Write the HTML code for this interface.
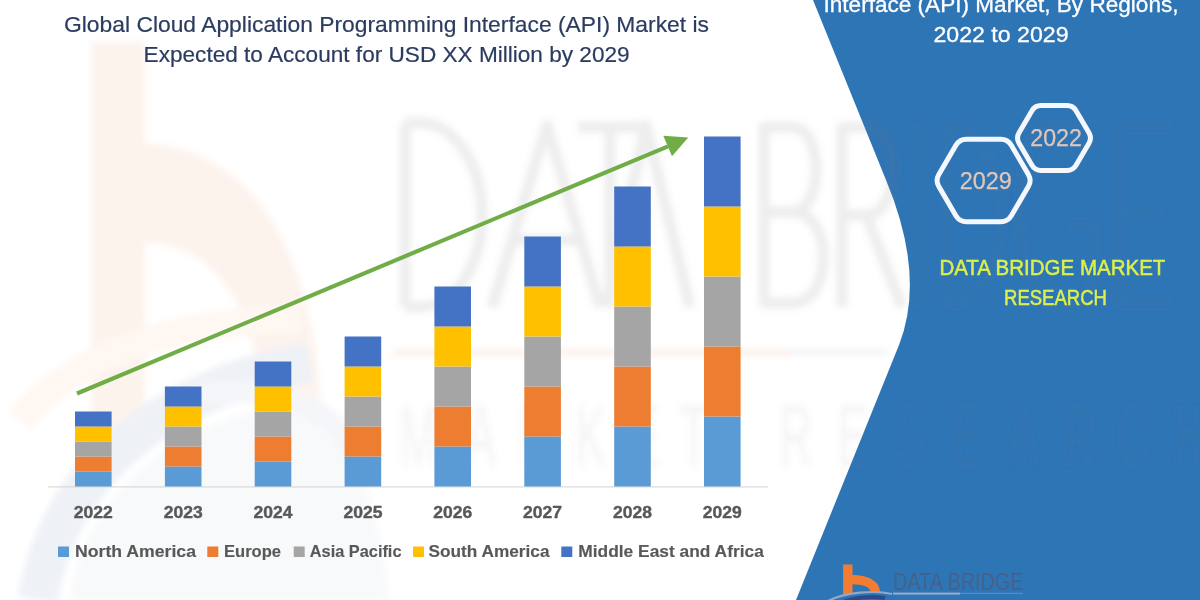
<!DOCTYPE html>
<html><head><meta charset="utf-8">
<style>
html,body{margin:0;padding:0;background:#fff;}
body{width:1200px;height:600px;overflow:hidden;position:relative;}
svg{position:absolute;left:0;top:0;display:block;}
text{font-family:"Liberation Sans",sans-serif;}
</style></head><body>
<svg width="1200" height="600" viewBox="0 0 1200 600">
<defs>
<filter id="bl" x="-20%" y="-20%" width="140%" height="140%"><feGaussianBlur stdDeviation="3"/></filter>
<filter id="bl2" x="-20%" y="-20%" width="140%" height="140%"><feGaussianBlur stdDeviation="6"/></filter>
<filter id="soft" x="-5%" y="-5%" width="110%" height="110%"><feGaussianBlur stdDeviation="0.35"/></filter>
</defs>
<rect x="0" y="0" width="1200" height="600" fill="#ffffff"/>
<!-- watermark -->
<g filter="url(#bl)">
<g fill="#fdf3ed">
<rect x="91" y="42" width="54" height="408"/>
<path d="M143,143 C235,146 322,225 322,450 L264,450 C264,305 215,243 143,243 Z"/>
</g>
<path d="M70,600 C80,500 170,420 300,400 C360,430 380,520 390,600 Z" fill="#f8f9fb"/>
<path d="M38,600 C55,485 150,390 310,362" fill="none" stroke="#eef1f6" stroke-width="40"/>
<path d="M200,395 C290,380 350,420 360,470" fill="none" stroke="#f5f6f9" stroke-width="22"/>
<path d="M20,420 C80,350 180,320 300,320" fill="none" stroke="#fef7f2" stroke-width="28"/>
<rect x="393" y="349.5" width="400" height="6" fill="#fcefe7"/>
<rect x="793" y="349.5" width="95" height="5" fill="#eef2f7"/>
</g>
<!-- panel -->
<path d="M813,0 L1200,0 L1200,600 L796,600 L899,345 Q926,276 886,180 Z" fill="#2e75b6"/>
<g filter="url(#bl)" fill="none" stroke="rgb(110,110,110)" stroke-opacity="0.12" stroke-width="11" stroke-linejoin="round">
<path d="M405,123 V307 M405,123 H420 A62,92 0 0 1 420,307 H405 M492,307 L547,125 L600,307 M515,240 H578 M578,127 H642 M610,127 V307 M606,307 L646,125 L690,307 M764,123 V307 M764,127 H792 C824,127 824,212 792,212 H764 M792,212 C834,212 834,303 792,303 H764 M842,123 V307 M842,127 H866 C902,127 902,215 866,215 H842 M866,215 L902,307"/>
</g>
<g filter="url(#bl)" fill="none" stroke="rgb(110,110,110)" stroke-opacity="0.05" stroke-width="11" stroke-linejoin="round">
<path d="M918,123 V307 M946,123 V307 M946,127 H960 A52,90 0 0 1 960,303 H946 M1095,150 C1080,128 1065,123 1055,123 C1030,123 1020,170 1020,215 C1020,265 1035,307 1058,307 C1080,307 1095,290 1095,260 V225 H1068 M1118,123 V307 M1118,127 H1172 M1118,212 H1165 M1118,303 H1172"/>
</g>
<g filter="url(#bl)" fill="rgb(110,110,110)" fill-opacity="0.08" font-size="88">
<text transform="translate(400,466) scale(0.5,1)">M</text><text transform="translate(466,466) scale(0.5,1)">A</text><text transform="translate(520,466) scale(0.5,1)">R</text><text transform="translate(576,466) scale(0.5,1)">K</text><text transform="translate(630,466) scale(0.5,1)">E</text><text transform="translate(680,466) scale(0.5,1)">T</text><text transform="translate(780,466) scale(0.5,1)">R</text><text transform="translate(838,466) scale(0.5,1)">E</text><text transform="translate(895,466) scale(0.5,1)">S</text><text transform="translate(952,466) scale(0.5,1)">E</text><text transform="translate(1008,466) scale(0.5,1)">A</text><text transform="translate(1063,466) scale(0.5,1)">R</text><text transform="translate(1118,466) scale(0.5,1)">C</text><text transform="translate(1172,466) scale(0.5,1)">H</text>
</g>
<!-- title -->
<g fill="#2b3c60" stroke="#2b3c60" stroke-width="0.2" font-size="22" filter="url(#soft)">
<text x="386.5" y="32.4" text-anchor="middle" textLength="645" lengthAdjust="spacingAndGlyphs">Global Cloud Application Programming Interface (API) Market is</text>
<text x="386.6" y="62" text-anchor="middle" textLength="486" lengthAdjust="spacingAndGlyphs">Expected to Account for USD XX Million by 2029</text>
</g>
<!-- axis -->
<rect x="48" y="486.3" width="720" height="1.2" fill="#d9d9d9"/>
<rect x="75.0" y="471.5" width="36.6" height="15" fill="#5b9bd5"/><rect x="75.0" y="456.5" width="36.6" height="15" fill="#ed7d31"/><rect x="75.0" y="441.5" width="36.6" height="15" fill="#a5a5a5"/><rect x="75.0" y="426.5" width="36.6" height="15" fill="#ffc000"/><rect x="75.0" y="411.5" width="36.6" height="15" fill="#4472c4"/><rect x="164.9" y="466.5" width="36.6" height="20" fill="#5b9bd5"/><rect x="164.9" y="446.5" width="36.6" height="20" fill="#ed7d31"/><rect x="164.9" y="426.5" width="36.6" height="20" fill="#a5a5a5"/><rect x="164.9" y="406.5" width="36.6" height="20" fill="#ffc000"/><rect x="164.9" y="386.5" width="36.6" height="20" fill="#4472c4"/><rect x="254.7" y="461.5" width="36.6" height="25" fill="#5b9bd5"/><rect x="254.7" y="436.5" width="36.6" height="25" fill="#ed7d31"/><rect x="254.7" y="411.5" width="36.6" height="25" fill="#a5a5a5"/><rect x="254.7" y="386.5" width="36.6" height="25" fill="#ffc000"/><rect x="254.7" y="361.5" width="36.6" height="25" fill="#4472c4"/><rect x="344.6" y="456.5" width="36.6" height="30" fill="#5b9bd5"/><rect x="344.6" y="426.5" width="36.6" height="30" fill="#ed7d31"/><rect x="344.6" y="396.5" width="36.6" height="30" fill="#a5a5a5"/><rect x="344.6" y="366.5" width="36.6" height="30" fill="#ffc000"/><rect x="344.6" y="336.5" width="36.6" height="30" fill="#4472c4"/><rect x="434.4" y="446.5" width="36.6" height="40" fill="#5b9bd5"/><rect x="434.4" y="406.5" width="36.6" height="40" fill="#ed7d31"/><rect x="434.4" y="366.5" width="36.6" height="40" fill="#a5a5a5"/><rect x="434.4" y="326.5" width="36.6" height="40" fill="#ffc000"/><rect x="434.4" y="286.5" width="36.6" height="40" fill="#4472c4"/><rect x="524.3" y="436.5" width="36.6" height="50" fill="#5b9bd5"/><rect x="524.3" y="386.5" width="36.6" height="50" fill="#ed7d31"/><rect x="524.3" y="336.5" width="36.6" height="50" fill="#a5a5a5"/><rect x="524.3" y="286.5" width="36.6" height="50" fill="#ffc000"/><rect x="524.3" y="236.5" width="36.6" height="50" fill="#4472c4"/><rect x="614.2" y="426.5" width="36.6" height="60" fill="#5b9bd5"/><rect x="614.2" y="366.5" width="36.6" height="60" fill="#ed7d31"/><rect x="614.2" y="306.5" width="36.6" height="60" fill="#a5a5a5"/><rect x="614.2" y="246.5" width="36.6" height="60" fill="#ffc000"/><rect x="614.2" y="186.5" width="36.6" height="60" fill="#4472c4"/><rect x="704.0" y="416.5" width="36.6" height="70" fill="#5b9bd5"/><rect x="704.0" y="346.5" width="36.6" height="70" fill="#ed7d31"/><rect x="704.0" y="276.5" width="36.6" height="70" fill="#a5a5a5"/><rect x="704.0" y="206.5" width="36.6" height="70" fill="#ffc000"/><rect x="704.0" y="136.5" width="36.6" height="70" fill="#4472c4"/>
<!-- arrow -->
<line x1="77" y1="393.5" x2="668" y2="146.3" stroke="#70ad47" stroke-width="4.1"/>
<path d="M688.3,137.5 L663.3,135.8 L672,156.3 Z" fill="#70ad47"/>
<g fill="#595959" stroke="#595959" stroke-width="0.4" font-size="17.2" font-weight="bold" filter="url(#soft)">
<text x="93.3" y="518" text-anchor="middle" textLength="39" lengthAdjust="spacingAndGlyphs">2022</text><text x="183.2" y="518" text-anchor="middle" textLength="39" lengthAdjust="spacingAndGlyphs">2023</text><text x="273.0" y="518" text-anchor="middle" textLength="39" lengthAdjust="spacingAndGlyphs">2024</text><text x="362.9" y="518" text-anchor="middle" textLength="39" lengthAdjust="spacingAndGlyphs">2025</text><text x="452.7" y="518" text-anchor="middle" textLength="39" lengthAdjust="spacingAndGlyphs">2026</text><text x="542.6" y="518" text-anchor="middle" textLength="39" lengthAdjust="spacingAndGlyphs">2027</text><text x="632.5" y="518" text-anchor="middle" textLength="39" lengthAdjust="spacingAndGlyphs">2028</text><text x="722.3" y="518" text-anchor="middle" textLength="39" lengthAdjust="spacingAndGlyphs">2029</text>
</g>
<!-- legend -->
<g font-size="17" font-weight="bold" fill="#595959">
<rect x="58" y="546.5" width="11" height="10.5" fill="#5b9bd5"/>
<rect x="207.3" y="546.5" width="11" height="10.5" fill="#ed7d31"/>
<rect x="293.7" y="546.5" width="11" height="10.5" fill="#a5a5a5"/>
<rect x="413" y="546.5" width="11" height="10.5" fill="#ffc000"/>
<rect x="561.3" y="546.5" width="11" height="10.5" fill="#4472c4"/>
<g filter="url(#soft)" stroke="#595959" stroke-width="0.15">
<text x="75" y="557" textLength="121" lengthAdjust="spacingAndGlyphs">North America</text>
<text x="224" y="557" textLength="57" lengthAdjust="spacingAndGlyphs">Europe</text>
<text x="309.8" y="557" textLength="91.7" lengthAdjust="spacingAndGlyphs">Asia Pacific</text>
<text x="428.5" y="557" textLength="121" lengthAdjust="spacingAndGlyphs">South America</text>
<text x="578.3" y="557" textLength="185.5" lengthAdjust="spacingAndGlyphs">Middle East and Africa</text>
</g>
</g>
<!-- panel text -->
<g fill="#ffffff" stroke="#ffffff" stroke-width="0.3" font-size="22.3" filter="url(#soft)">
<text x="1001" y="11.7" text-anchor="middle" textLength="355" lengthAdjust="spacingAndGlyphs">Interface (API) Market, By Regions,</text>
<text x="1001" y="41.7" text-anchor="middle" textLength="135" lengthAdjust="spacingAndGlyphs">2022 to 2029</text>
</g>
<!-- hexagons -->
<g fill="none" stroke="#f4f8fc" stroke-width="5" filter="url(#soft)">
<path d="M1019.03,143.18 Q1016.00,138.00 1019.03,132.82 L1031.97,110.68 Q1035.00,105.50 1041.00,105.50 L1067.00,105.50 Q1073.00,105.50 1076.03,110.68 L1088.97,132.82 Q1092.00,138.00 1088.97,143.18 L1076.03,165.32 Q1073.00,170.50 1067.00,170.50 L1041.00,170.50 Q1035.00,170.50 1031.97,165.32 Z"/>
<path d="M938.84,186.54 Q935.30,180.50 938.84,174.46 L955.91,145.29 Q959.45,139.25 966.45,139.25 L1000.75,139.25 Q1007.75,139.25 1011.29,145.29 L1028.36,174.46 Q1031.90,180.50 1028.36,186.54 L1011.29,215.71 Q1007.75,221.75 1000.75,221.75 L966.45,221.75 Q959.45,221.75 955.91,215.71 Z"/>
</g>
<g fill="#e3c6b8" stroke="#e3c6b8" stroke-width="0.25" font-size="23.5" filter="url(#soft)">
<text x="1056.1" y="146.3" text-anchor="middle" textLength="51.5" lengthAdjust="spacingAndGlyphs">2022</text>
<text x="985.7" y="188.7" text-anchor="middle" textLength="52" lengthAdjust="spacingAndGlyphs">2029</text>
</g>
<g fill="#dcf04a" stroke="#dcf04a" stroke-width="0.5" font-size="21.6" filter="url(#soft)">
<text x="1052.4" y="275" text-anchor="middle" textLength="226" lengthAdjust="spacingAndGlyphs">DATA BRIDGE MARKET</text>
<text x="1055.5" y="305.2" text-anchor="middle" textLength="103" lengthAdjust="spacingAndGlyphs">RESEARCH</text>
</g>
<!-- bottom logo -->
<g filter="url(#soft)">
<path d="M843.1,564.4 L852.5,564.4 L852.5,574.9 C866,574.9 880,580 880,592 L870.5,592 C870.5,587 862,584.3 852.5,584.3 L852.5,594 L843.1,594 Z" fill="#f27c32"/>
<path d="M828,601 C845,592 875,590 892,594" fill="none" stroke="#93a7c6" stroke-width="2.2"/>
<path d="M840,603 C855,597 870,596 885,598" fill="none" stroke="#2c4c8c" stroke-width="4"/>
<text x="893" y="590.3" font-size="23" fill="#45618a" textLength="130.5" lengthAdjust="spacingAndGlyphs" style="font-weight:normal">DATA BRIDGE</text>
<rect x="893" y="592.6" width="67" height="2" fill="#9aaccb"/>
<rect x="960" y="592.8" width="63" height="1.2" fill="#5b8ac2"/>
</g>
</svg>
</body></html>
